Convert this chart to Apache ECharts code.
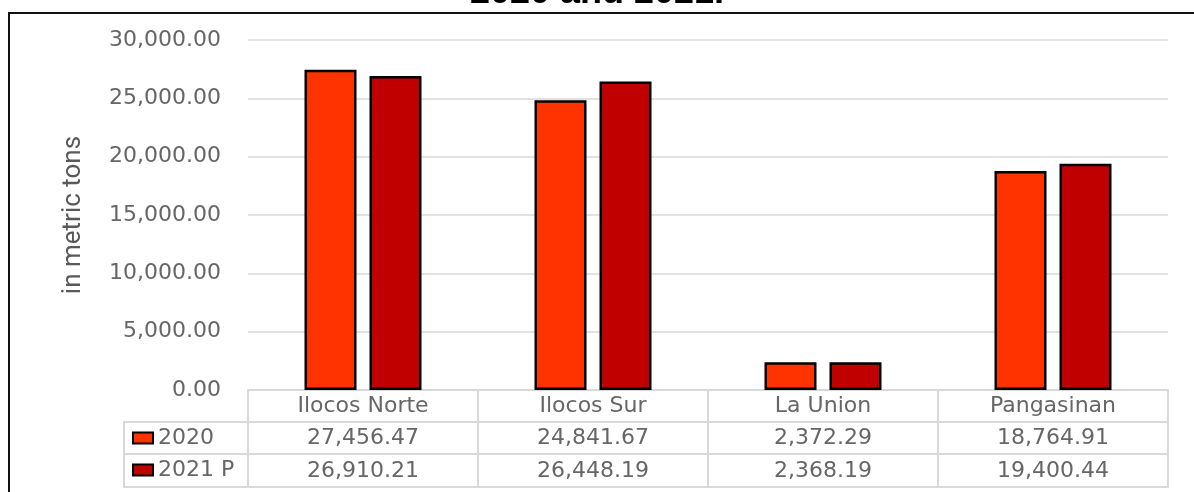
<!DOCTYPE html>
<html>
<head>
<meta charset="utf-8">
<script src="https://cdn.jsdelivr.net/npm/echarts@6/dist/echarts.min.js"></script>
<style>
html,body{margin:0;padding:0;background:#fff;}
#chart{width:1194px;height:492px;}
</style>
</head>
<body>
<div id="chart"></div>
<script>
var titleText = '2020 and 2021.';
var categories = ['Ilocos Norte', 'Ilocos Sur', 'La Union', 'Pangasinan'];
var seriesNames = ['2020', '2021 P'];
var values2020 = [27456.47, 24841.67, 2372.29, 18764.91];
var values2021 = [26910.21, 26448.19, 2368.19, 19400.44];
var yAxisName = 'in metric tons';
var yMin = 0, yMax = 30000, yInterval = 5000;

function fmt(v) {
  return v.toLocaleString('en-US', {minimumFractionDigits: 2, maximumFractionDigits: 2});
}

var textColor = '#666666';
var lineColor = '#d9d9d9';
var tableFont = 'DejaVu Sans';
var tableSize = 22;

function tableAxis(data, offset, tickLen, margin, showLabel) {
  return {
    type: 'category',
    gridIndex: 0,
    position: 'bottom',
    offset: offset,
    data: data,
    boundaryGap: true,
    axisLine: {show: true, lineStyle: {color: lineColor, width: 2}},
    axisTick: {show: tickLen > 0, length: tickLen, interval: 0, lineStyle: {color: lineColor, width: 2}},
    axisLabel: {
      show: showLabel, interval: 0, margin: margin,
      color: textColor, fontFamily: tableFont, fontSize: tableSize, lineHeight: 22
    },
    splitLine: {show: false}
  };
}

var chart = echarts.init(document.getElementById('chart'), null, {renderer: 'canvas'});
chart.setOption({
  animation: false,
  backgroundColor: '#ffffff',
  title: {
    text: titleText,
    left: 'center',
    top: -30,
    padding: 5,
    textStyle: {fontFamily: 'Liberation Sans', fontWeight: 'bold', fontSize: 36, lineHeight: 36, color: '#000'}
  },
  legend: {
    orient: 'vertical',
    left: 132,
    top: 427,
    padding: 0,
    itemGap: 10,
    itemWidth: 20,
    itemHeight: 11,
    icon: 'rect',
    selectedMode: false,
    data: seriesNames,
    textStyle: {color: textColor, fontFamily: tableFont, fontSize: tableSize, lineHeight: 22}
  },
  grid: {left: 248, right: 26, top: 40, bottom: 102, containLabel: false},
  xAxis: [
    tableAxis(categories, 0, 32, 5, true),
    tableAxis(values2020.map(fmt), 32, 32, 5, true),
    tableAxis(values2021.map(fmt), 64, 33, 6, true),
    tableAxis(categories, 97, 0, 6, false)
  ],
  yAxis: {
    type: 'value',
    min: yMin, max: yMax, interval: yInterval,
    name: yAxisName,
    nameLocation: 'middle',
    nameRotate: 90,
    nameGap: 162,
    nameTextStyle: {fontFamily: 'Roboto', fontSize: 26, lineHeight: 26, color: '#595959'},
    axisLine: {show: false},
    axisTick: {show: false},
    axisLabel: {
      margin: 27, color: textColor, fontFamily: tableFont, fontSize: tableSize,
      formatter: function (v) { return fmt(v); }
    },
    splitLine: {show: true, lineStyle: {color: lineColor, width: 1.5}}
  },
  series: [
    {
      name: seriesNames[0], type: 'bar', xAxisIndex: 0, data: values2020,
      barWidth: 52, barGap: '25%',
      itemStyle: {color: '#FF3300', borderColor: '#000', borderWidth: 2.5}
    },
    {
      name: seriesNames[1], type: 'bar', xAxisIndex: 0, data: values2021,
      barWidth: 52, barGap: '25%',
      itemStyle: {color: '#C00000', borderColor: '#000', borderWidth: 2.5}
    }
  ],
  graphic: [
    {type: 'rect', silent: true, shape: {x: 9, y: 13, width: 1400, height: 600},
     style: {fill: 'none', stroke: '#111', lineWidth: 2}},
    {type: 'rect', silent: true, shape: {x: 124, y: 422, width: 124, height: 65},
     style: {fill: 'none', stroke: lineColor, lineWidth: 2}},
    {type: 'line', silent: true, shape: {x1: 124, y1: 454, x2: 248, y2: 454},
     style: {stroke: lineColor, lineWidth: 2}}
  ]
});
</script>
</body>
</html>
